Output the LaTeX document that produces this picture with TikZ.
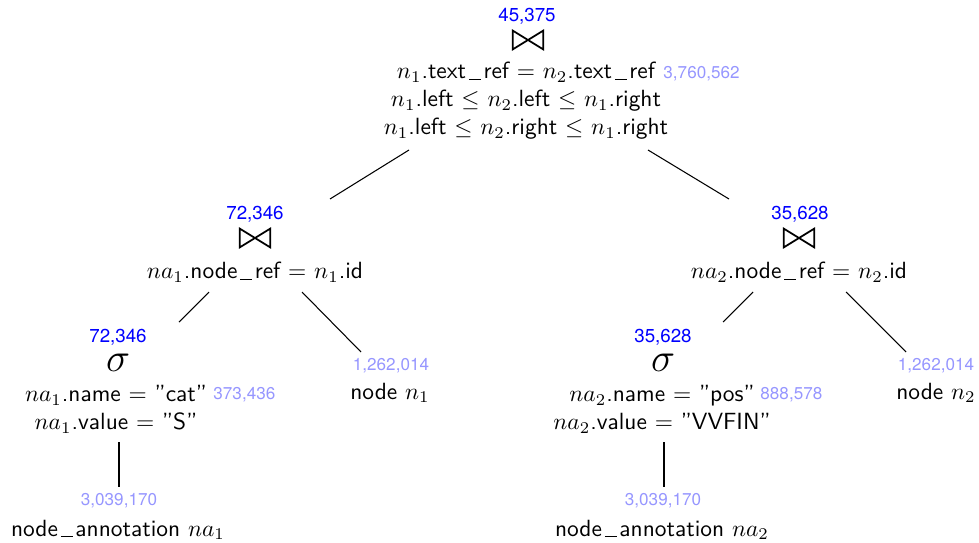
\documentclass[tikz,border=0pt]{standalone}
\usepackage{fontspec}
\newfontfamily\numfont{TeX Gyre Heros}
\definecolor{cntblue}{RGB}{0,0,255}
\definecolor{estblue}{RGB}{150,150,255}
% thin underscore set on the baseline with a little space around it
\newcommand{\us}{\kern0.12em\rule[-0.1ex]{0.5em}{0.4pt}\kern0.12em}
\tikzset{
  lbl/.style={font=\sffamily\fontsize{10}{12}\selectfont, inner sep=0pt, align=center},
  cnt/.style={font=\numfont\fontsize{8}{9}\selectfont, text=cntblue, inner sep=0pt},
  est/.style={font=\numfont\fontsize{7.3}{8}\selectfont, text=estblue, inner sep=0pt, anchor=west},
  joinop/.style={inner sep=0pt, minimum width=12.6pt, minimum height=7.6pt},
  bowtie/.style={line width=0.75pt, line join=miter},
  selop/.style={inner sep=0pt, font=\LARGE},
  edge/.style={line width=0.45pt}
}
\begin{document}
\begin{tikzpicture}[x=0.015cm, y=0.015cm]
  \useasboundingbox (0,0) rectangle (979,542);

  % root join
  \node[cnt] (rcnt) at (527,526) {45,375};
  \node[joinop] (rop) at (528,502) {};
  \node[lbl] (rcond) at (526,441)
    {$n_1$.text\us ref $=$ $n_2$.text\us ref\\
     $n_1$.left $\leq$ $n_2$.left $\leq$ $n_1$.right\\
     $n_1$.left $\leq$ $n_2$.right $\leq$ $n_1$.right};
  \node[est] (rest) at (663,468) {3,760,562};

  % left join
  \node[cnt] (lcnt) at (255,328) {72,346};
  \node[joinop] (lop) at (255,304) {};
  \node[lbl] (lcond) at (255,270) {$na_1$.node\us ref $=$ $n_1$.id};

  % right join
  \node[cnt] (jcnt) at (800,328) {35,628};
  \node[joinop] (jop) at (799,304) {};
  \node[lbl] (jcond) at (799,270) {$na_2$.node\us ref $=$ $n_2$.id};

  % join symbols
  \foreach \j in {rop,lop,jop}
    \draw[bowtie] (\j.north west) -- (\j.south west) -- (\j.north east)
                  -- (\j.south east) -- cycle;

  % left selection
  \node[cnt] (lscnt) at (118,205) {72,346};
  \node[selop] (lsop) at (118,179) {$\sigma$};
  \node[lbl] (lscond) at (116,132.5) {$na_1$.name $=$ ''cat''\\ $na_1$.value $=$ ''S''};
  \node[est] (lsest) at (213,147) {373,436};

  % right selection
  \node[cnt] (rscnt) at (663,205) {35,628};
  \node[selop] (rsop) at (663,179) {$\sigma$};
  \node[lbl] (rscond) at (662,132.5) {$na_2$.name $=$ ''pos''\\ $na_2$.value $=$ ''VVFIN''};
  \node[est] (rsest) at (760,147) {888,578};

  % base relations
  \node[est, anchor=center] (n1est) at (391,176) {1,262,014};
  \node[lbl] (n1rel) at (390,149) {node $n_1$};
  \node[est, anchor=center] (n2est) at (936,176) {1,262,014};
  \node[lbl] (n2rel) at (936,149) {node $n_2$};
  \node[est, anchor=center] (na1est) at (119,41) {3,039,170};
  \node[lbl] (na1rel) at (118,12) {node\us annotation $na_1$};
  \node[est, anchor=center] (na2est) at (663,41) {3,039,170};
  \node[lbl] (na2rel) at (662,12) {node\us annotation $na_2$};

  % edge end points
  \coordinate (r-l) at (409,392);
  \coordinate (l-r) at (330,343);
  \coordinate (r-r) at (648,392);
  \coordinate (j-r) at (729,343);
  \coordinate (l-a) at (209,250);
  \coordinate (ls-a) at (179,220);
  \coordinate (l-b) at (302,250);
  \coordinate (n1-b) at (361,190);
  \coordinate (j-a) at (753,250);
  \coordinate (rs-a) at (723,220);
  \coordinate (j-b) at (846,250);
  \coordinate (n2-b) at (906,190);
  \coordinate (ls-d) at (119,100);
  \coordinate (na1-d) at (119,55);
  \coordinate (rs-d) at (664,100);
  \coordinate (na2-d) at (664,55);

  \draw[edge] (r-l) -- (l-r);
  \draw[edge] (r-r) -- (j-r);
  \draw[edge] (l-a) -- (ls-a);
  \draw[edge] (l-b) -- (n1-b);
  \draw[edge] (j-a) -- (rs-a);
  \draw[edge] (j-b) -- (n2-b);
  \draw[edge] (ls-d) -- (na1-d);
  \draw[edge] (rs-d) -- (na2-d);
\end{tikzpicture}
\end{document}
